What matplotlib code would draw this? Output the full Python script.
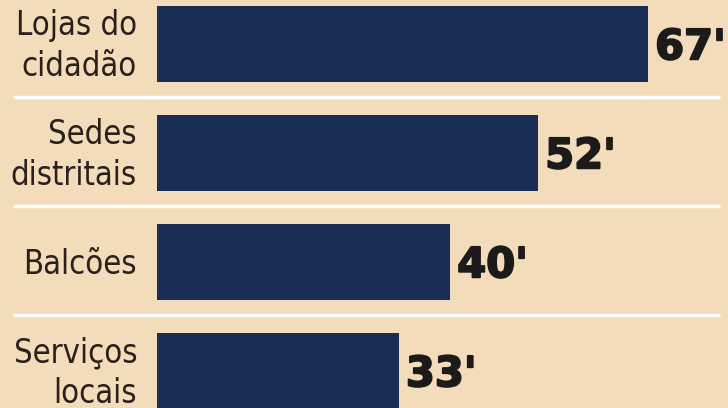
import matplotlib.pyplot as plt
import matplotlib.patheffects as pe

# data
categories = ['Lojas do\ncidadão', 'Sedes\ndistritais', 'Balcões', 'Serviços\nlocais']
values = [67, 52, 40, 33]
value_labels = ["67'", "52'", "40'", "33'"]

bg = '#f2dcb9'
bar_color = '#1b2c57'
text_color = '#2a201c'

fig = plt.figure(figsize=(7.28, 4.08), dpi=100, facecolor=bg)
ax = fig.add_axes([0, 0, 1, 1], facecolor=bg)

# pixel scale: bars start at x=157, 7.33 px per unit; rows 109 px apart, first centre at y=44
px = 7.33
ax.set_xlim(-157 / px, (728 - 157) / px)
ax.set_ylim((408 - 44) / 109, -44 / 109)

ys = range(len(values))
ax.barh(ys, values, height=0.70, color=bar_color, left=0)

# white separators between rows
for i in range(len(values) - 1):
    ax.plot([-144 / px, 720 / px - 157 / px], [i + 0.485, i + 0.485],
            color='white', lw=2.5, solid_capstyle='butt')

for y, cat, v, lab in zip(ys, categories, values, value_labels):
    ax.text(-20 / px, y + 0.02, cat, ha='right', va='center', fontsize=23.5,
            color=text_color, family='DejaVu Sans', stretch='condensed',
            linespacing=1.32)
    ax.text(v + 7 / px, y + 0.03, lab, ha='left', va='center', fontsize=30,
            fontweight='bold', color='#1c1a1a', family='DejaVu Sans',
            path_effects=[pe.withStroke(linewidth=1.4, foreground='#1c1a1a')])

ax.axis('off')
fig.savefig('out.png', dpi=100, facecolor=bg)
